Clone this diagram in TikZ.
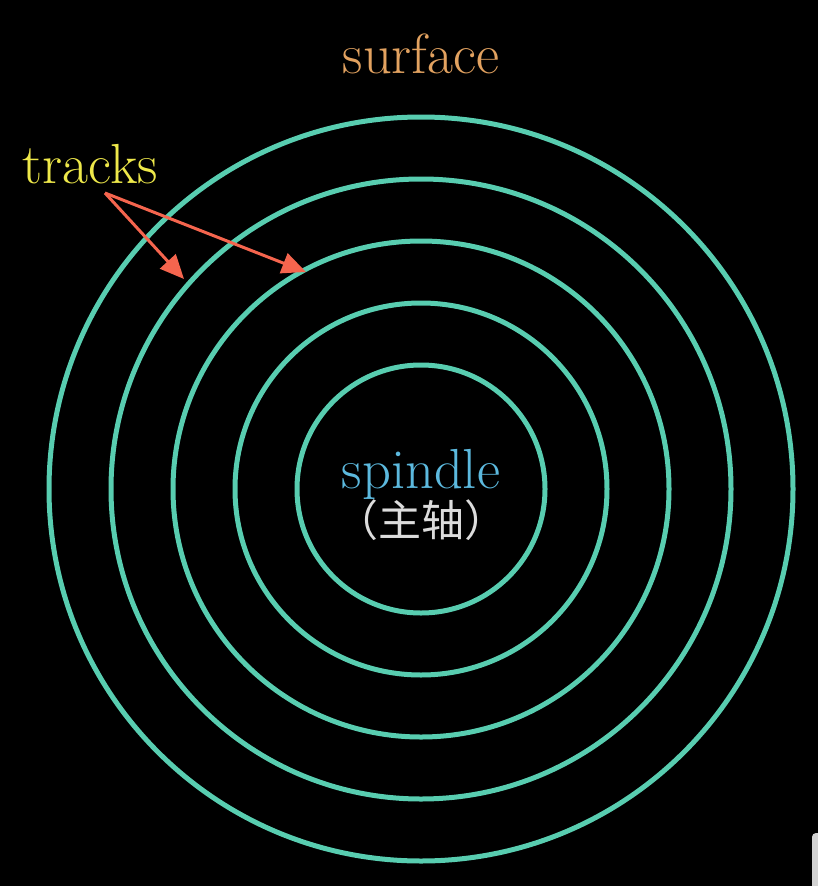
\documentclass[tikz,border=0pt]{standalone}
\usepackage{fontspec}
\newfontfamily\cjk{Noto Sans CJK SC}
\usetikzlibrary{arrows.meta}
\definecolor{trackcol}{HTML}{58CDB0}
\definecolor{arrowcol}{HTML}{F5654E}
\definecolor{trackstxt}{HTML}{EEE84A}
\definecolor{surftxt}{HTML}{E2A260}
\definecolor{spintxt}{HTML}{5CB9DE}
\definecolor{cjktxt}{HTML}{DCDCDC}
\tikzset{
  track/.style={draw=trackcol, line width=5pt},
  lbl/.style={inner sep=0pt, anchor=base, font=\fontsize{56.5}{68}\selectfont},
  pointer/.style={draw=arrowcol, line width=3pt, -{Triangle[length=24pt,width=21pt]}},
}
\begin{document}
\begin{tikzpicture}[x=1pt,y=-1pt]
  \fill[black] (0,0) rectangle (818,886);
  \useasboundingbox (0,0) rectangle (818,886);
  \coordinate (c) at (421,489);
  \foreach \r in {124,186,248,310,372}{
    \draw[track] (c) circle[radius=\r];
  }
  \node[lbl, text=surftxt, draw=surftxt, draw opacity=0, line width=0.6pt] (surface) at (421,73) {surface};
  \node[lbl, text=trackstxt] (tracks) at (90.5,183) {tracks};
  \node[lbl, text=spintxt] (spindle) at (421,488) {spindle};
  \node[inner sep=0pt, anchor=base, text=cjktxt, font=\cjk\fontsize{43}{50}\selectfont] (zhuzhou) at (421,536) {（主轴）};
  \coordinate (t0) at (105,193);
  \coordinate (t1) at (184,279);
  \coordinate (t2) at (306,272);
  \draw[pointer] (t0) -- (t1);
  \draw[pointer] (t0) -- (t2);
  \fill[gray!35, rounded corners=4pt] (812,833) rectangle (824,892);
\end{tikzpicture}
\end{document}
